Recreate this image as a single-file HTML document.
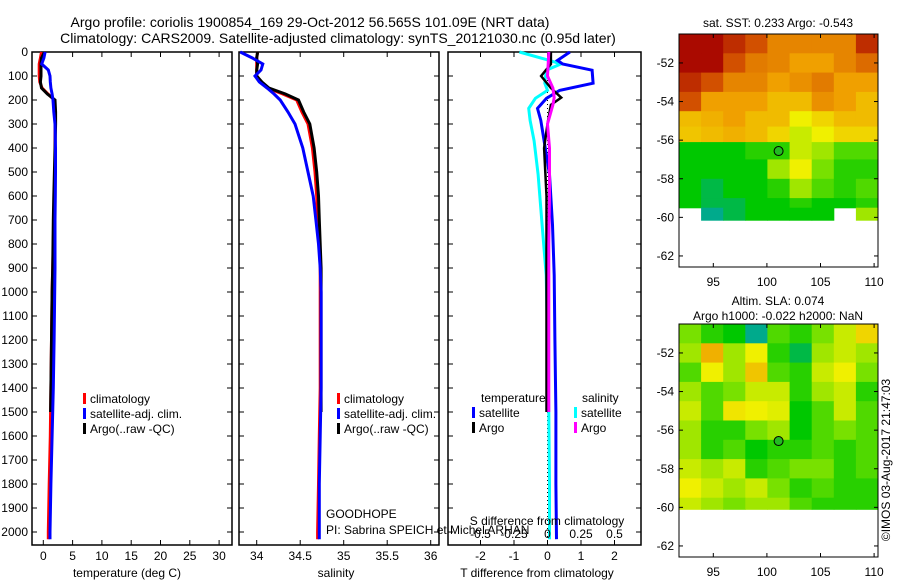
<!DOCTYPE html>
<html><head><meta charset="utf-8">
<style>
html,body{margin:0;padding:0;background:#fff;}
svg{display:block;font-family:"Liberation Sans",Arial,sans-serif;}
</style></head>
<body>
<svg id="fig" width="900" height="580" viewBox="0 0 900 580" xmlns="http://www.w3.org/2000/svg">
  <rect x="0" y="0" width="900" height="580" fill="#fff"/>
  <text x="310" y="27" font-size="14" text-anchor="middle">Argo profile: coriolis 1900854_169 29-Oct-2012 56.565S 101.09E (NRT data)</text>
  <text x="338" y="43" font-size="14" text-anchor="middle">Climatology: CARS2009. Satellite-adjusted climatology: synTS_20121030.nc (0.95d later)</text>
  <g id="g1"></g>
  <g id="g2"></g>
  <g id="g3"></g>
  <g id="g4"></g>
  <g id="g5"></g>
</svg>
<script>
// ---------- data ----------
const depthT = [0,25,50,75,100,125,150,175,200,250,300,400,500,600,700,800,900,1000,1200,1400,1600,1800,2000,2030];
const tempClim = [-0.3,-0.5,-0.7,-0.7,-0.7,-0.6,-0.2,0.8,1.9,2.0,2.0,2.0,2.0,1.9,1.8,1.7,1.6,1.5,1.4,1.3,1.2,1.0,0.85,0.85];
const tempSat = [0.3,0.1,-0.27,0.85,1.15,1.2,1.3,1.5,1.65,1.8,2.0,2.08,2.08,2.05,2.0,2.0,2.0,1.95,1.85,1.7,1.5,1.3,1.15,1.15];
const depthArgo = [0,25,50,75,100,125,150,175,200,250,300,400,500,600,700,800,900,1000,1200,1400,1500];
const tempArgo = [0.2,-0.3,-0.4,-0.4,-0.4,-0.5,-0.3,0.7,2.0,2.1,2.1,2.0,1.9,1.8,1.7,1.65,1.6,1.5,1.4,1.3,1.25];
const salClim = [34.01,34.0,34.0,34.0,34.0,34.05,34.12,34.3,34.46,34.52,34.59,34.64,34.67,34.69,34.70,34.72,34.73,34.73,34.73,34.73,34.72,34.71,34.70,34.70];
const salSat = [33.81,33.95,34.07,34.05,33.98,34.03,34.12,34.2,34.27,34.36,34.44,34.53,34.59,34.65,34.68,34.71,34.73,34.74,34.74,34.74,34.73,34.72,34.72,34.72];
const salArgo = [34.01,34.0,34.01,34.0,34.0,34.06,34.14,34.33,34.48,34.54,34.61,34.66,34.69,34.71,34.72,34.73,34.74,34.74,34.74,34.74,34.74];
const depthD = [0,35,50,76,130,160,193,235,285,370,510,720,930,1200,1500,1800,2030];
const dTsat = [0.67,0.3,0.45,1.33,1.36,0.36,-0.03,-0.3,-0.2,-0.1,0.06,0.15,0.2,0.22,0.25,0.25,0.27];
const dSsat = [-0.21,0.015,0.1,-0.01,-0.02,0.0,-0.09,-0.14,-0.13,-0.1,-0.07,-0.04,-0.01,0.0,0.01,0.015,0.015];
const depthDA = [0,50,100,150,190,220,300,400,600,800,1000,1200,1500];
const dTargo = [0.1,0.1,-0.19,0.1,0.41,0.1,0.0,-0.1,-0.03,-0.03,-0.03,-0.03,-0.03];
const dSargo = [0.01,0.005,0.0,0.04,0.05,0.04,0.0,0.015,0.015,0.01,0.01,0.01,0.01];
const depthTicks = [0,100,200,300,400,500,600,700,800,900,1000,1100,1200,1300,1400,1500,1600,1700,1800,1900,2000];
const tempTicks = [0,5,10,15,20,25,30];
const salTicks = [34,34.5,35,35.5,36];
const dTTicks = [-2,-1,0,1,2];
const dSTicks = [-0.5,-0.25,0,0.25,0.5];
const sstLatEdges = [-50.5,-51.5,-52.5,-53.5,-54.5,-55.3,-56.1,-57,-58,-59,-59.5,-60.15];
const sstGrid = [
 [1,1,0.95,0.9,0.8,0.8,0.8,0.8,0.95],
 [1,1,0.9,0.82,0.8,0.75,0.75,0.8,0.85],
 [0.95,0.9,0.8,0.8,0.75,0.78,0.82,0.75,0.75],
 [0.9,0.75,0.75,0.75,0.7,0.7,0.78,0.75,0.7],
 [0.7,0.72,0.75,0.7,0.7,0.6,0.65,0.7,0.7],
 [0.68,0.7,0.72,0.7,0.65,0.55,0.6,0.65,0.65],
 [0.3,0.3,0.3,0.35,0.35,0.55,0.5,0.4,0.4],
 [0.3,0.3,0.3,0.3,0.5,0.6,0.45,0.35,0.35],
 [0.3,0.25,0.3,0.3,0.35,0.5,0.4,0.35,0.4],
 [0.3,0.25,0.25,0.3,0.3,0.35,0.3,0.3,0.35],
 [null,0.2,0.25,0.3,0.3,0.3,0.3,null,0.5]
];
const slaLatEdges = [-50.5,-51.5,-52.5,-53.5,-54.5,-55.5,-56.5,-57.5,-58.5,-59.5,-60.1];
const slaGrid = [
 [0.45,0.35,0.3,0.2,0.4,0.35,0.45,0.55,0.65],
 [0.5,0.72,0.5,0.6,0.35,0.25,0.5,0.55,0.5],
 [0.4,0.6,0.5,0.68,0.4,0.35,0.55,0.6,0.45],
 [0.5,0.4,0.45,0.55,0.55,0.35,0.5,0.55,0.35],
 [0.55,0.4,0.62,0.6,0.58,0.3,0.4,0.55,0.4],
 [0.5,0.35,0.35,0.45,0.5,0.3,0.4,0.45,0.4],
 [0.5,0.35,0.4,0.3,0.35,0.35,0.4,0.35,0.4],
 [0.55,0.5,0.55,0.35,0.4,0.45,0.45,0.35,0.4],
 [0.6,0.55,0.5,0.55,0.45,0.35,0.4,0.35,0.35],
 [0.55,0.5,0.45,0.5,0.5,0.4,0.35,0.35,0.35]
];
const lonTicks = [95,100,105,110];
const latTicks = [-52,-54,-56,-58,-60,-62];
const argoPos = [101.09,-56.565];

// ---------- helpers ----------
const NS = "http://www.w3.org/2000/svg";
function mk(parent, tag, attrs, txt){
  const e = document.createElementNS(NS, tag);
  for (const k in attrs) e.setAttribute(k, attrs[k]);
  if (txt !== undefined) e.textContent = txt;
  parent.appendChild(e);
  return e;
}
const yD = d => 52 + d*0.24;
const PT = 52, PB = 545;

function frame(g, x0, x1, name){
  const r = mk(g,'rect',{x:x0,y:PT,width:x1-x0,height:PB-PT,fill:'none',stroke:'#000','stroke-width':1.5});
  
  
}
function line(g, xs, ys, sx, color, w, name){
  const pts = xs.map((v,i)=> sx(v).toFixed(1)+','+yD(ys[i]).toFixed(1)).join(' ');
  const p = mk(g,'polyline',{points:pts,fill:'none',stroke:color,'stroke-width':w,'stroke-linejoin':'miter'});
  
  
}
function xticks(g, ticks, sx, yLab, fmt){
  ticks.forEach(t=>{
    const x = sx(t);
    mk(g,'line',{x1:x,y1:PB,x2:x,y2:PB-5,stroke:'#000'});
    mk(g,'line',{x1:x,y1:PT,x2:x,y2:PT+5,stroke:'#000'});
    const tx = mk(g,'text',{x:x,y:yLab,'font-size':12,'text-anchor':'middle'}, fmt?fmt(t):String(t));
    
    
  });
}
function legend(g, x, y, items){
  items.forEach((it,i)=>{
    mk(g,'rect',{x:x,y:y+i*15-10,width:3,height:11,fill:it[0]});
    const t = mk(g,'text',{x:x+7,y:y+i*15,'font-size':12}, it[1]);
    
    
  });
}

// ---------- panel 1: temperature ----------
const g1 = document.getElementById('g1');
const sxT = v => 43.3 + v*5.86;
frame(g1, 32, 232, 'temperature-axes');
depthTicks.forEach(d=>{
  const y = yD(d);
  mk(g1,'line',{x1:32,y1:y,x2:37,y2:y,stroke:'#000'});
  mk(g1,'line',{x1:232,y1:y,x2:227,y2:y,stroke:'#000'});
  const t = mk(g1,'text',{x:28,y:y+4,'font-size':12,'text-anchor':'end'}, String(d));
  
  
});
xticks(g1, tempTicks, sxT, 560);
line(g1, tempClim, depthT, sxT, '#ff0000', 3, 'temp-climatology-line');
line(g1, tempArgo, depthArgo, sxT, '#000000', 3, 'temp-argo-line');
line(g1, tempSat, depthT, sxT, '#0000ff', 3, 'temp-satellite-line');
legend(g1, 83, 403, [['#ff0000','climatology'],['#0000ff','satellite-adj. clim.'],['#000','Argo(..raw -QC)']]);
mk(g1,'text',{x:127,y:577,'font-size':12,'text-anchor':'middle',},'temperature (deg C)');

// ---------- panel 2: salinity ----------
const g2 = document.getElementById('g2');
const sxS = v => 256.7 + (v-34)*87;
frame(g2, 239, 439, 'salinity-axes');
depthTicks.forEach(d=>{
  const y = yD(d);
  mk(g2,'line',{x1:239,y1:y,x2:244,y2:y,stroke:'#000'});
  mk(g2,'line',{x1:439,y1:y,x2:434,y2:y,stroke:'#000'});
});
xticks(g2, salTicks, sxS, 560);
line(g2, salClim, depthT, sxS, '#ff0000', 3, 'sal-climatology-line');
line(g2, salArgo, depthArgo, sxS, '#000000', 3, 'sal-argo-line');
line(g2, salSat, depthT, sxS, '#0000ff', 3, 'sal-satellite-line');
legend(g2, 337, 403, [['#ff0000','climatology'],['#0000ff','satellite-adj. clim.'],['#000','Argo(..raw -QC)']]);
mk(g2,'text',{x:336,y:577,'font-size':12,'text-anchor':'middle',},'salinity');
mk(g2,'text',{x:326,y:518,'font-size':12,},'GOODHOPE');

// ---------- panel 3: differences ----------
const g3 = document.getElementById('g3');
const sxDT = v => 547.5 + v*33.5;
const sxDS = v => 547.5 + v*134;
frame(g3, 448, 641, 'difference-axes');
depthTicks.forEach(d=>{
  const y = yD(d);
  mk(g3,'line',{x1:448,y1:y,x2:453,y2:y,stroke:'#000'});
  mk(g3,'line',{x1:641,y1:y,x2:636,y2:y,stroke:'#000'});
});
xticks(g3, dTTicks, sxDT, 560);
mk(g3,'line',{x1:sxDT(0),y1:PT,x2:sxDT(0),y2:PB,stroke:'#000','stroke-width':1,'stroke-dasharray':'1,3',});
line(g3, dSsat, depthD, sxDS, '#00ffff', 3, 'sal-diff-satellite-line');
line(g3, dTsat, depthD, sxDT, '#0000ff', 3, 'temp-diff-satellite-line');
line(g3, dTargo, depthDA, sxDT, '#000000', 2.5, 'temp-diff-argo-line');
line(g3, dSargo, depthDA, sxDS, '#ff00ff', 3, 'sal-diff-argo-line');
mk(g3,'text',{x:481,y:402,'font-size':12,},'temperature');
mk(g3,'text',{x:582,y:402,'font-size':12,},'salinity');
legend(g3, 472, 417, [['#0000ff','satellite'],['#000','Argo']]);
legend(g3, 574, 417, [['#00ffff','satellite'],['#ff00ff','Argo']]);
mk(g3,'text',{x:547,y:525,'font-size':12,'text-anchor':'middle',},'S difference from climatology');
dSTicks.forEach(t=>{
  const tx = mk(g3,'text',{x:sxDS(t),y:538,'font-size':12,'text-anchor':'middle'}, String(t));
  
  
});
mk(g3,'text',{x:537,y:577,'font-size':12,'text-anchor':'middle',},'T difference from climatology');
mk(document.getElementById('fig'),'text',{x:326,y:534,'font-size':12,},'PI: Sabrina SPEICH et Michel ARHAN');

// ---------- maps ----------
const stops = [[0.2,[0,170,140]],[0.3,[0,200,0]],[0.45,[120,225,0]],[0.6,[240,240,0]],[0.75,[240,160,0]],[0.9,[210,80,0]],[1.0,[170,10,0]]];
function cmap(v){
  if (v <= stops[0][0]) return 'rgb('+stops[0][1]+')';
  for (let i=1;i<stops.length;i++){
    if (v <= stops[i][0]){
      const a=stops[i-1], b=stops[i], f=(v-a[0])/(b[0]-a[0]);
      return 'rgb('+a[1].map((c,j)=>Math.round(c+(b[1][j]-c)*f)).join(',')+')';
    }
  }
  return 'rgb('+stops[stops.length-1][1]+')';
}
function drawMap(g, top, latEdges, grid, title, name){
  const x0=679, x1=878, bot=top+233;
  const sx = lon => x0 + (lon-91.8)*10.72;
  const sy = lat => top + (-50.5-lat)*19.3;
  const nc = grid[0].length, cw = (x1-x0)/nc;
  grid.forEach((row,r)=>{
    const ya = sy(latEdges[r]), yb = sy(latEdges[r+1]);
    row.forEach((v,c)=>{
      if (v===null) return;
      const cell = mk(g,'rect',{x:(x0+c*cw).toFixed(1),y:ya.toFixed(1),width:(cw+0.5).toFixed(1),height:(yb-ya+0.5).toFixed(1),fill:cmap(v)});
      
      
    });
  });
  const fr = mk(g,'rect',{x:x0,y:top,width:x1-x0,height:bot-top,fill:'none',stroke:'#000','stroke-width':1});
  
  
  lonTicks.forEach(l=>{
    const x=sx(l);
    mk(g,'line',{x1:x,y1:bot,x2:x,y2:bot-4,stroke:'#000'});
    mk(g,'line',{x1:x,y1:top,x2:x,y2:top+4,stroke:'#000'});
    const t = mk(g,'text',{x:x,y:bot+19,'font-size':12,'text-anchor':'middle'}, String(l));
    
    
  });
  latTicks.forEach(l=>{
    const y=sy(l);
    mk(g,'line',{x1:x0,y1:y,x2:x0+4,y2:y,stroke:'#000'});
    mk(g,'line',{x1:x1,y1:y,x2:x1-4,y2:y,stroke:'#000'});
    const t = mk(g,'text',{x:x0-5,y:y+4,'font-size':12,'text-anchor':'end'}, String(l));
    
    
  });
  const mc = mk(g,'circle',{cx:sx(argoPos[0]),cy:sy(argoPos[1]),r:4.5,fill:'#22bb22',stroke:'#000','stroke-width':1});
  
  
  title.forEach((tt,i)=>{
    const t = mk(g,'text',{x:778,y:top-19+i*15+(title.length===1?15:0)-(title.length===1?3:0),'font-size':12,'text-anchor':'middle'}, tt);
    
    
  });
}
drawMap(document.getElementById('g4'), 34, sstLatEdges, sstGrid, ['sat. SST: 0.233 Argo: -0.543'], 'sst-map');
drawMap(document.getElementById('g5'), 324, slaLatEdges, slaGrid, ['Altim. SLA: 0.074','Argo h1000: -0.022 h2000: NaN'], 'sla-map');
mk(document.getElementById('g5'),'text',{x:0,y:0,'font-size':12,'text-anchor':'middle',transform:'translate(890,460) rotate(-90)',},'©IMOS 03-Aug-2017 21:47:03');
</script>
</body></html>
